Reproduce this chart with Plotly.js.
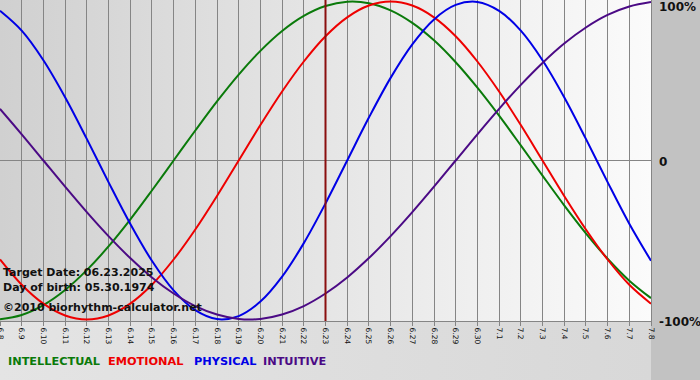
<!DOCTYPE html>
<html>
<head>
<meta charset="utf-8">
<script src="https://cdn.plot.ly/plotly-3.0.1.min.js"></script>
<style>html,body{margin:0;padding:0;background:#fff;}#chart{width:700px;height:380px;}</style>
</head>
<body>
<div id="chart"></div>
<script>
// Day labels (x axis)
var days = ['6.8','6.9','6.10','6.11','6.12','6.13','6.14','6.15','6.16','6.17','6.18','6.19','6.20','6.21','6.22','6.23','6.24','6.25','6.26','6.27','6.28','6.29','6.30','7.1','7.2','7.3','7.4','7.5','7.6','7.7','7.8'];

// Series values in percent, one per day
var intellectual = [-99.9,-97.2,-91.0,-81.5,-69.0,-54.1,-37.2,-18.9,0,18.9,37.2,54.1,69.0,81.5,91.0,97.2,99.9,99.0,94.5,86.6,75.6,61.8,45.8,28.2,9.5,-9.5,-28.2,-45.8,-61.8,-75.6,-86.6];
var emotional = [-62.3,-78.2,-90.1,-97.5,-100,-97.5,-90.1,-78.2,-62.3,-43.4,-22.3,0,22.3,43.4,62.3,78.2,90.1,97.5,100,97.5,90.1,78.2,62.3,43.4,22.3,0,-22.3,-43.4,-62.3,-78.2,-90.1];
var physical = [94.2,81.7,63.1,39.8,13.6,-13.6,-39.8,-63.1,-81.7,-94.2,-99.8,-97.9,-88.8,-73.1,-52.0,-27.0,0,27.0,52.0,73.1,88.8,97.9,99.8,94.2,81.7,63.1,39.8,13.6,-13.6,-39.8,-63.1];
var intuitive = [32.5,16.5,0,-16.5,-32.5,-47.6,-61.4,-73.6,-83.7,-91.6,-96.9,-99.7,-99.7,-96.9,-91.6,-83.7,-73.6,-61.4,-47.6,-32.5,-16.5,0,16.5,32.5,47.6,61.4,73.6,83.7,91.6,96.9,99.7];

var seriesNames = ['INTELLECTUAL','EMOTIONAL','PHYSICAL','INTUITIVE'];
var seriesColors = ['#0a7a0a','#ee0000','#0000e6','#4b0a85'];
var seriesData = [intellectual, emotional, physical, intuitive];

var yTickVals = [100, 0, -100];
var yTickText = ['100%', '0', '-100%'];

var targetDay = '6.23';
var infoLines = ['Target Date: 06.23.2025', 'Day of birth: 05.30.1974', '\u00a92010 biorhythm-calculator.net'];

var traces = seriesData.map(function (vals, i) {
  return {
    type: 'scatter', mode: 'lines', name: seriesNames[i],
    x: days, y: vals,
    line: {color: seriesColors[i], width: 2, shape: 'spline', smoothing: 1},
    hoverinfo: 'skip'
  };
});

function grad(c0, c1) {
  var svg = '<svg xmlns="http://www.w3.org/2000/svg" width="100" height="100" preserveAspectRatio="none">' +
    '<defs><linearGradient id="g" x1="0" x2="1" y1="0" y2="0">' +
    '<stop offset="0" stop-color="' + c0 + '"/><stop offset="1" stop-color="' + c1 + '"/></linearGradient></defs>' +
    '<rect width="100" height="100" fill="url(#g)"/></svg>';
  return 'data:image/svg+xml;charset=utf-8,' + encodeURIComponent(svg);
}

var plotH = 321, plotW = 651;
function py(px) { return (plotH - px) / plotH; }

var annotations = [];
// info text
var infoY = [272, 287, 307];
infoLines.forEach(function (t, i) {
  annotations.push({
    xref: 'paper', yref: 'paper', x: 0, y: py(infoY[i]), xanchor: 'left', yanchor: 'middle',
    xshift: 1, showarrow: false, text: '<b>' + t + '</b>',
    font: {family: 'DejaVu Sans', size: 11, color: '#111'}
  });
});
// legend text
var legX = [7, 107, 193, 262];
seriesNames.forEach(function (n, i) {
  annotations.push({
    xref: 'paper', yref: 'paper', x: legX[i] / plotW, y: py(362), xanchor: 'left', yanchor: 'middle',
    xshift: -1, showarrow: false, text: '<b>' + n + '</b>',
    font: {family: 'DejaVu Sans', size: 11.3, color: seriesColors[i]}
  });
});
// y labels
var yShift = [-5, -1.5, -3];
yTickVals.forEach(function (v, i) {
  annotations.push({
    xref: 'paper', yref: 'y', x: 1, y: v, xanchor: 'left', yanchor: 'middle',
    xshift: 6, yshift: yShift[i], showarrow: false, text: '<b>' + yTickText[i] + '</b>',
    font: {family: 'DejaVu Sans', size: 12, color: '#111'}
  });
});

var layout = {
  width: 700, height: 380,
  margin: {l: 0, r: 49, t: 0, b: 59, pad: 0},
  paper_bgcolor: '#c2c2c2',
  plot_bgcolor: 'rgba(0,0,0,0)',
  showlegend: false,
  xaxis: {
    type: 'category', range: [0, days.length - 1],
    tickmode: 'array', tickvals: days, ticktext: days,
    showgrid: true, gridcolor: '#858585', gridwidth: 1,
    ticks: 'outside', ticklen: 4, tickcolor: '#858585', tickwidth: 1,
    tickangle: 90, tickfont: {family: 'DejaVu Sans', size: 7.5, color: '#111'},
    showline: true, linecolor: '#858585', linewidth: 1,
    zeroline: false, fixedrange: true
  },
  yaxis: {
    range: [-101, 101], side: 'right',
    showgrid: false, zeroline: true, zerolinecolor: '#858585', zerolinewidth: 1,
    showticklabels: false, ticks: '',
    showline: true, linecolor: '#858585', linewidth: 1, fixedrange: true
  },
  images: [
    {source: grad('#d0d0d0', '#fbfbfb'), xref: 'paper', yref: 'paper', x: 0, y: 1, sizex: 1, sizey: 1,
     xanchor: 'left', yanchor: 'top', sizing: 'stretch', layer: 'below'},
    {source: grad('#e4e4e4', '#d8d8d8'), xref: 'paper', yref: 'paper', x: 0, y: 0, sizex: 1, sizey: 59 / plotH,
     xanchor: 'left', yanchor: 'top', sizing: 'stretch', layer: 'below'}
  ],
  shapes: [{
    type: 'line', xref: 'x', yref: 'paper', x0: days.indexOf(targetDay), x1: days.indexOf(targetDay), y0: 0, y1: 1,
    line: {color: '#8a0f0f', width: 2}, layer: 'above'
  }],
  annotations: annotations
};

Plotly.newPlot('chart', traces, layout, {displayModeBar: false, staticPlot: true});
</script>
</body>
</html>
